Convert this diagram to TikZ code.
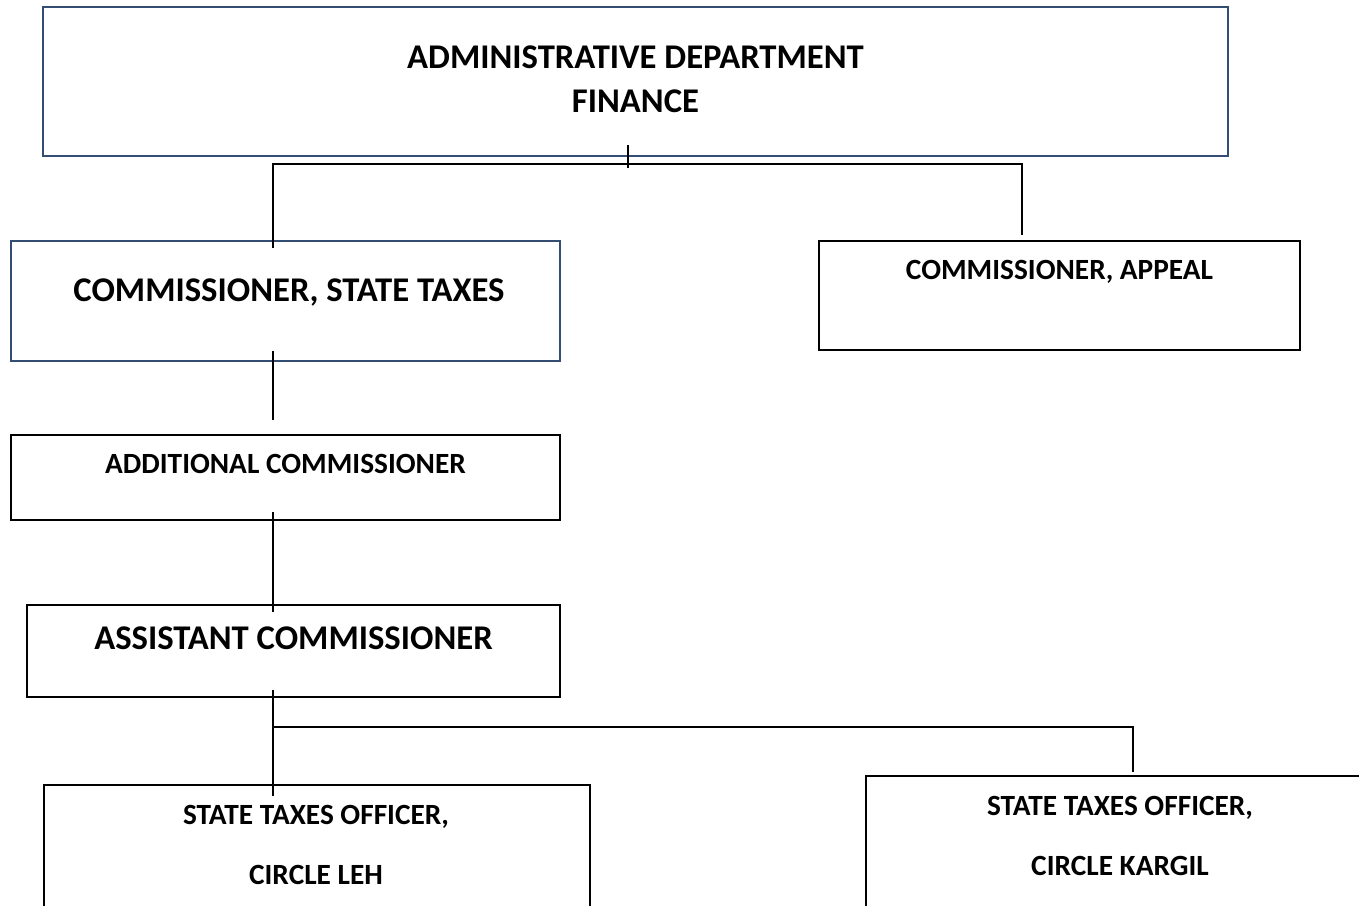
\documentclass[tikz,border=0pt]{standalone}
\usepackage{fontspec}
\setmainfont{Carlito}
\definecolor{boxblue}{RGB}{52,78,115}
\begin{document}
\begin{tikzpicture}[x=0.75pt,y=-0.75pt,
  box/.style={draw=black,line width=1.4pt,rectangle,inner sep=0pt,fill=none},
  bluebox/.style={box,draw=boxblue},
  sz/.style 2 args={minimum width=#1*0.75pt,minimum height=#2*0.75pt},
  big/.style={anchor=base,inner sep=0pt,font=\fontsize{26}{30}\selectfont\bfseries},
  small/.style={anchor=base,inner sep=0pt,font=\fontsize{22}{26}\selectfont\bfseries},
  conn/.style={draw=black,line width=1.1pt}]
\useasboundingbox (0,0) rectangle (1359,906);
% boxes
\node[bluebox,sz={1185}{149}] (top) at (635.5,81.5) {};
\node[bluebox,sz={549}{120}] (cst) at (285.5,301) {};
\node[box,sz={481}{109}] (app) at (1059.5,295.5) {};
\node[box,sz={549}{85}] (add) at (285.5,477.5) {};
\node[box,sz={533}{92}] (asst) at (293.5,651) {};
\node[box,sz={546}{130}] (leh) at (317,850) {};
\node[box,sz={504}{139}] (kar) at (1118,845.5) {};
% texts
\node[big] (t1) at (635.5,69) {ADMINISTRATIVE DEPARTMENT};
\node[big] (t2) at (635.5,113) {FINANCE};
\node[big] (t3) at (289,301) {COMMISSIONER, STATE TAXES};
\node[small] (t4) at (1059.5,279.5) {COMMISSIONER, APPEAL};
\node[small] (t5) at (285.5,473.5) {ADDITIONAL COMMISSIONER};
\node[big] (t6) at (293.5,649) {ASSISTANT COMMISSIONER};
\node[small] (t7) at (316,824.5) {STATE TAXES OFFICER,};
\node[small] (t8) at (316,884.5) {CIRCLE LEH};
\node[small] (t9) at (1120,815.5) {STATE TAXES OFFICER,};
\node[small] (t10) at (1120,875.5) {CIRCLE KARGIL};
% connector points
\coordinate (c0a) at (628,145);
\coordinate (c0b) at (628,168);
\coordinate (c1) at (273,248);
\coordinate (c2) at (273,164);
\coordinate (c3) at (1022,164);
\coordinate (c4) at (1022,235);
\coordinate (c5) at (273,351);
\coordinate (c6) at (273,420);
\coordinate (c7) at (273,512);
\coordinate (c8) at (273,612);
\coordinate (c9) at (273,690);
\coordinate (c10) at (273,796);
\coordinate (c11) at (273,727);
\coordinate (c12) at (1133,727);
\coordinate (c13) at (1133,772);
% connectors
\draw[conn] (c0a) -- (c0b);
\draw[conn] (c1) -- (c2) -- (c3) -- (c4);
\draw[conn] (c5) -- (c6);
\draw[conn] (c7) -- (c8);
\draw[conn] (c9) -- (c10);
\draw[conn] (c11) -- (c12) -- (c13);
\end{tikzpicture}
\end{document}
